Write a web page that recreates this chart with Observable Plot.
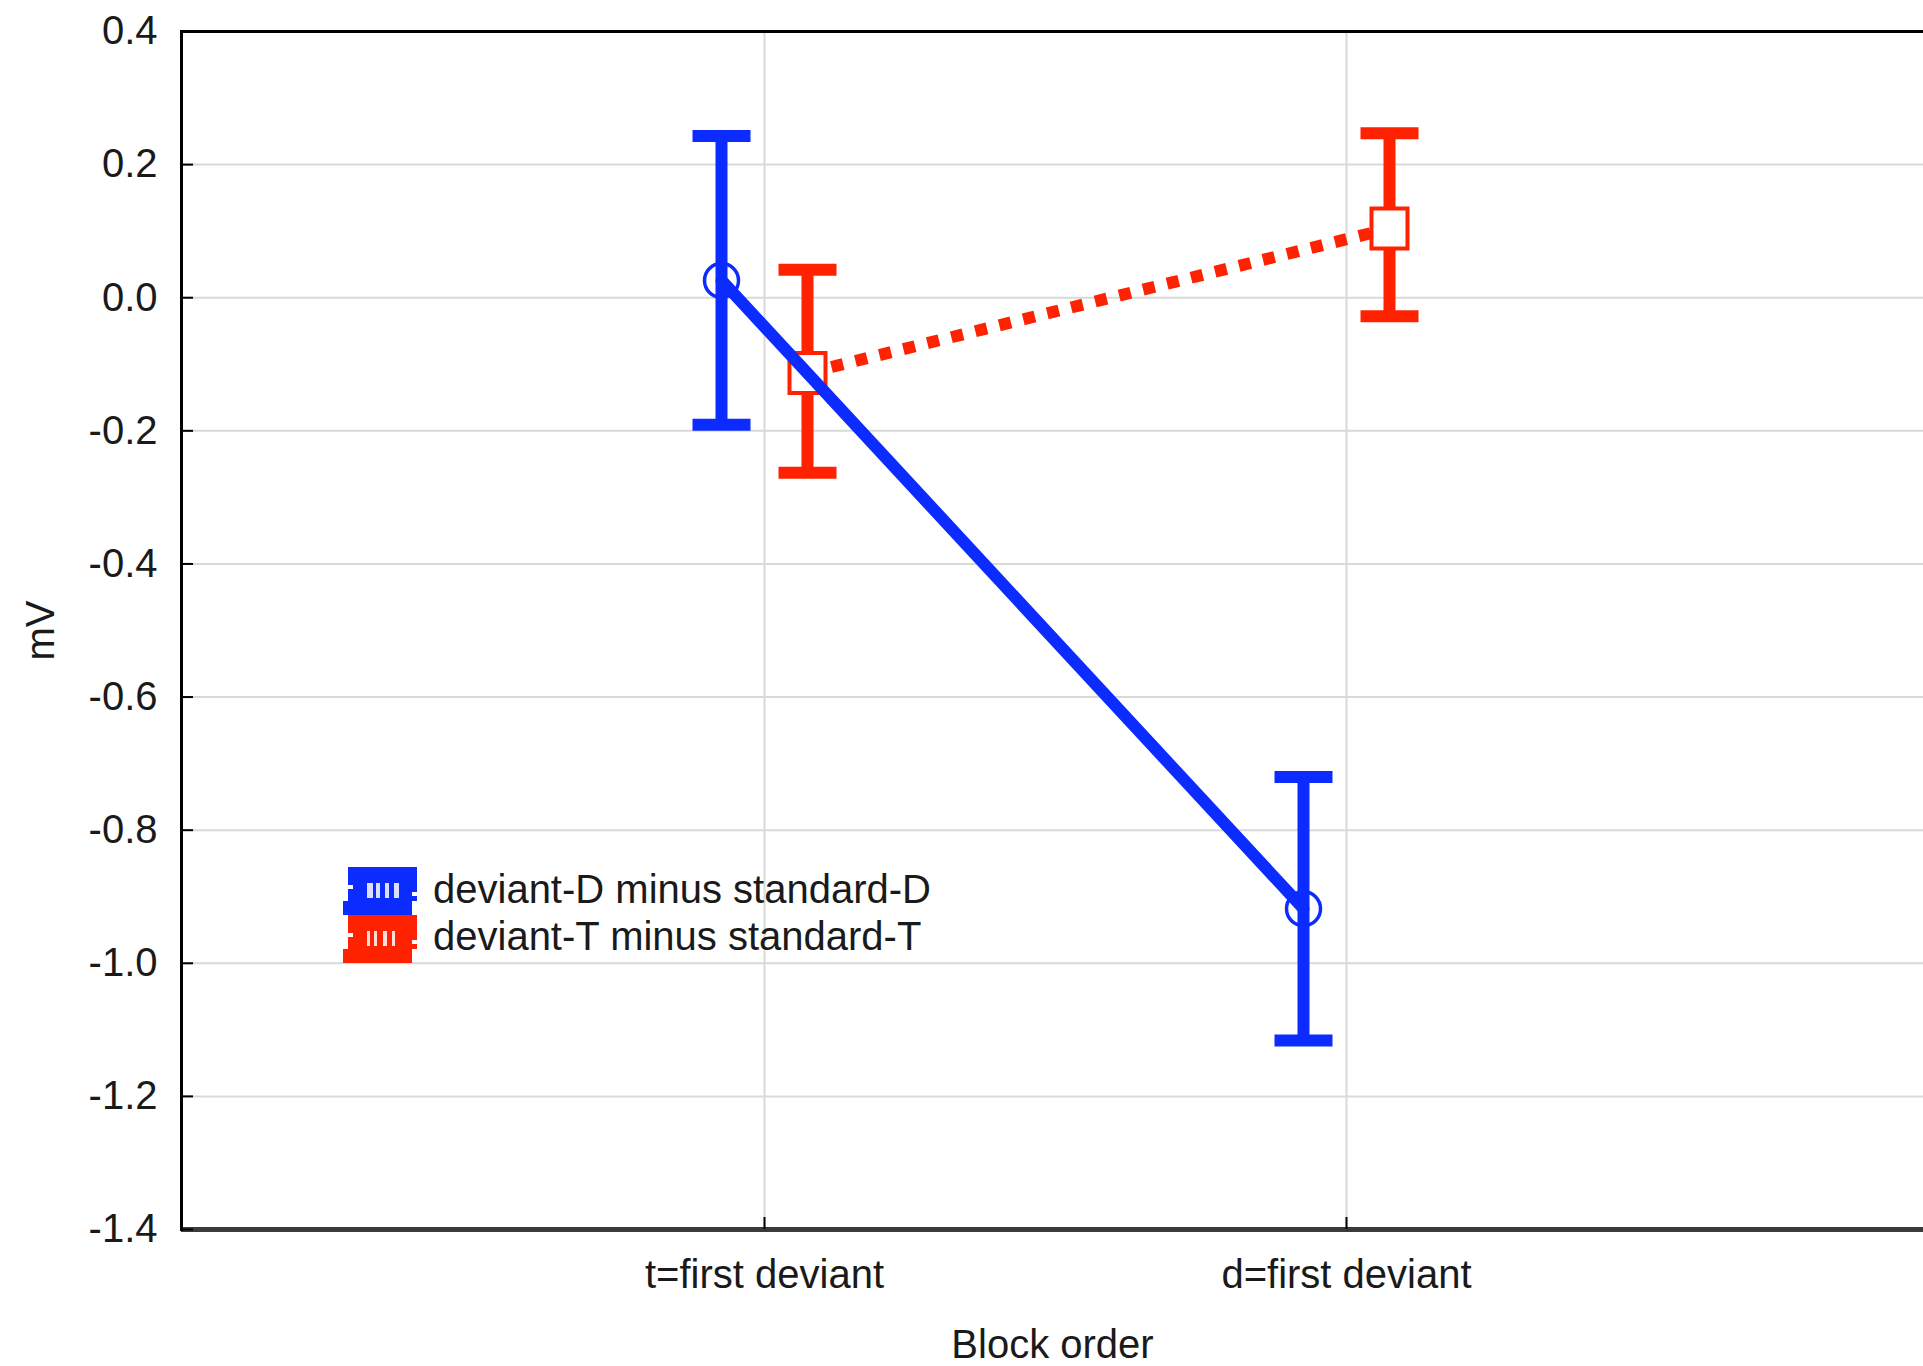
<!DOCTYPE html>
<html><head><meta charset="utf-8">
<script src="https://cdn.jsdelivr.net/npm/d3@7"></script>
<script src="https://cdn.jsdelivr.net/npm/@observablehq/plot@0.6"></script>
<style>
html,body{margin:0;padding:0;background:#fff;}
#wrap{position:relative;width:1923px;height:1366px;overflow:hidden;font-family:"Liberation Sans",Arial,sans-serif;}
#wrap svg{display:block;}
#legend{position:absolute;left:0;top:0;}
</style></head><body><div id="wrap"></div>
<script>
// ---- data ----
const categories = ["t=first deviant", "d=first deviant"];
const seriesNames = ["deviant-D minus standard-D", "deviant-T minus standard-T"];
const devDMean = [0.026, -0.918];
const devDLow  = [-0.191, -1.116];
const devDHigh = [0.243, -0.720];
const devTMean = [-0.113, 0.104];
const devTLow  = [-0.263, -0.028];
const devTHigh = [0.042, 0.247];
const yTicks = [0.4, 0.2, 0.0, -0.2, -0.4, -0.6, -0.8, -1.0, -1.2, -1.4];
const xLabel = "Block order";
const yLabel = "mV";

// ---- styles ----
const blue = "#0c2cff", red = "#ff2200", ink = "#1a1a1a";
const font = '"Liberation Sans", Arial, sans-serif';

const toRows = (means, lows, highs) => categories.map((c, i) => ({cat: c, mean: means[i], lo: lows[i], hi: highs[i]}));
const D = toRows(devDMean, devDLow, devDHigh);
const T = toRows(devTMean, devTLow, devTHigh);

const capSym = {draw(ctx) { ctx.moveTo(-29, 0); ctx.lineTo(29, 0); }};
const sqSym = {draw(ctx) { ctx.rect(-18, -20, 36, 40); }};
const fmt = d => d.toFixed(1);
const offD = -43, offT = 43;

const chart = Plot.plot({
  width: 1923, height: 1366,
  marginLeft: 181, marginRight: 0, marginTop: 31, marginBottom: 137,
  style: {fontFamily: font, fontSize: "40px", color: ink, background: "#fff", overflow: "visible"},
  x: {type: "point", domain: categories, padding: 1, range: [181, 1929]},
  y: {domain: [-1.4, 0.4]},
  marks: [
    Plot.gridY(yTicks, {stroke: "#d9d9d9", strokeOpacity: 1, strokeWidth: 2}),
    Plot.gridX(categories, {stroke: "#d9d9d9", strokeOpacity: 1, strokeWidth: 2}),
    Plot.ruleY([yTicks[0]], {stroke: "#000", strokeWidth: 3}),
    Plot.ruleY([yTicks[yTicks.length - 1]], {stroke: "#3a3a3a", strokeWidth: 5}),
    Plot.frame({anchor: "left", stroke: "#000", strokeWidth: 3}),
    Plot.axisY(yTicks, {tickSize: -12, fill: "none", stroke: "#000", strokeWidth: 2, label: null}),
    Plot.axisY(yTicks, {tickSize: 0, tickPadding: 24, tickFormat: fmt, fontSize: 40, fill: ink,
      label: yLabel, labelAnchor: "center", labelOffset: 156, labelArrow: "none"}),
    Plot.axisX(categories, {tickSize: -12, fill: "none", stroke: "#000", strokeWidth: 2, label: null}),
    Plot.axisX(categories, {tickSize: 0, tickPadding: 30, fontSize: 40, fill: ink,
      label: xLabel, labelAnchor: "center", labelOffset: 128, labelArrow: "none"}),

    // deviant-T series (red)
    Plot.ruleX(T, {x: "cat", y1: "lo", y2: "hi", dx: offT, stroke: red, strokeWidth: 12}),
    Plot.dot(T, {x: "cat", y: "hi", dx: offT, symbol: capSym, stroke: red, strokeWidth: 12, fill: "none"}),
    Plot.dot(T, {x: "cat", y: "lo", dx: offT, symbol: capSym, stroke: red, strokeWidth: 12, fill: "none"}),
    Plot.line(T, {x: "cat", y: "mean", dx: offT, stroke: red, strokeWidth: 12, strokeLinecap: "butt", strokeDasharray: "12,12.7"}),
    Plot.dot(T, {x: "cat", y: "mean", dx: offT, symbol: sqSym, stroke: red, strokeWidth: 4, fill: "#fff"}),

    // deviant-D series (blue)
    Plot.ruleX(D, {x: "cat", y1: "lo", y2: "hi", dx: offD, stroke: blue, strokeWidth: 12}),
    Plot.dot(D, {x: "cat", y: "hi", dx: offD, symbol: capSym, stroke: blue, strokeWidth: 12, fill: "none"}),
    Plot.dot(D, {x: "cat", y: "lo", dx: offD, symbol: capSym, stroke: blue, strokeWidth: 12, fill: "none"}),
    Plot.line(D, {x: "cat", y: "mean", dx: offD, stroke: blue, strokeWidth: 12}),
    Plot.dot(D, {x: "cat", y: "mean", dx: offD, r: 17, stroke: blue, strokeWidth: 3.5, fill: "none"})
  ]
});
const wrap = document.getElementById("wrap");
wrap.appendChild(chart);

// ---- legend (overlay) ----
const colors = [blue, red];
const lg = d3.select(wrap).append("svg").attr("id", "legend")
  .attr("width", 1923).attr("height", 1366)
  .style("pointer-events", "none");
seriesNames.forEach((name, i) => {
  const y0 = 867 + i * 48;
  const g = lg.append("g").attr("transform", `translate(343,${y0})`);
  // solid compressed error-bar swatch
  g.append("rect").attr("x", 5).attr("y", 0).attr("width", 69).attr("height", 13).attr("fill", colors[i]);
  g.append("rect").attr("x", 5).attr("y", 13).attr("width", 69).attr("height", 21).attr("fill", colors[i]);
  g.append("rect").attr("x", 0).attr("y", 34).attr("width", 69).attr("height", 14).attr("fill", colors[i]);
  // small white gaps inside the middle row
  const gaps = i === 0 ? [[24, 6], [33, 4], [42, 4], [51, 5]] : [[24, 3], [31, 3], [40, 4], [49, 3]];
  gaps.forEach(([gx, gw]) => {
    g.append("rect").attr("x", gx).attr("y", 16).attr("width", gw).attr("height", 15).attr("fill", "#fff").attr("opacity", 0.85);
  });
  g.append("rect").attr("x", 0).attr("y", 14).attr("width", 5).attr("height", 20).attr("fill", "#fff");
  g.append("rect").attr("x", 5).attr("y", 18).attr("width", 5).attr("height", 4).attr("fill", "#fff");
  g.append("rect").attr("x", 69).attr("y", 25).attr("width", 5).attr("height", 4).attr("fill", "#fff");
  lg.append("text").attr("x", 433).attr("y", 903 + i * 47)
    .attr("font-family", font).attr("font-size", 40).attr("fill", ink)
    .text(name);
});
</script></body></html>
